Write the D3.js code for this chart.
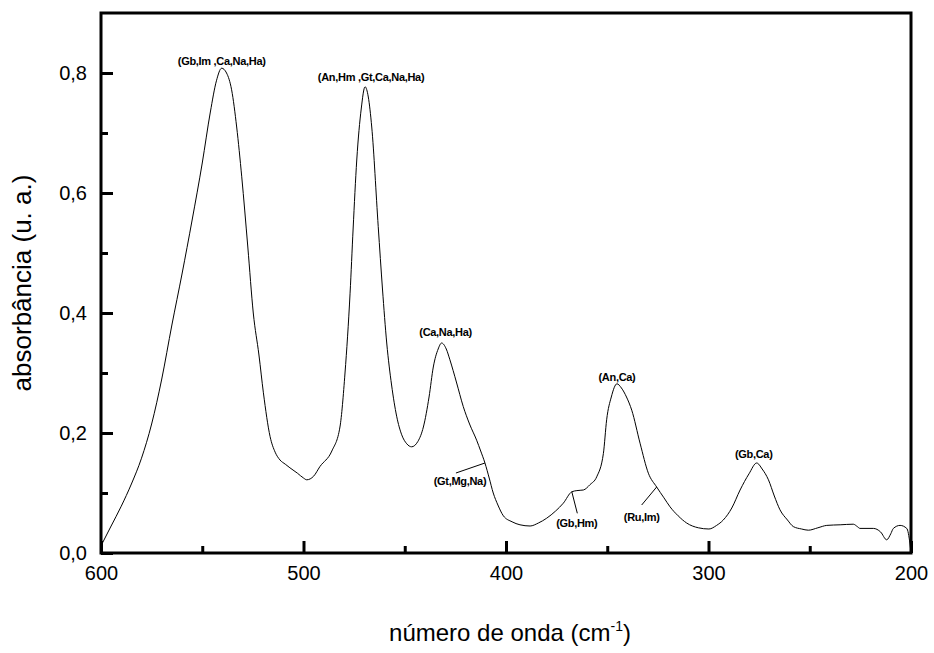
<!DOCTYPE html>
<html>
<head>
<meta charset="utf-8">
<script src="https://cdnjs.cloudflare.com/ajax/libs/d3/7.8.5/d3.min.js"></script>
<style>
body { margin: 0; background: #fff; }
.graphic text { font-family: "Liberation Sans", Arial, sans-serif; }
</style>
</head>
<body>
<div class="graphic"></div>
<script>
// spectrum: wavenumber (cm-1) and absorbance (u. a.)
var wavenumber = [600, 595, 590, 585, 580, 575, 570, 565, 560, 555, 550, 546, 543, 540.4, 538, 535.5, 533, 530.5, 527.5,
  524.8, 522, 519.8, 516.5, 514, 511.6, 509, 506.7, 503, 500, 498.4, 495, 491.9, 486, 482, 479.5, 477, 475.5, 473.7, 471.5,
  469.6, 468, 466.3, 463.1, 461, 458.9, 456.5, 454, 451.5, 449, 446.6, 443.5, 440.8, 438, 435.9, 433.5, 431.8, 429.5, 427.7, 424.5, 421.1,
  418, 414.5, 412.5, 410.4, 408.3, 406.3, 404, 401.3, 397, 393.1, 388.1, 384, 379.9, 375.5, 371.7, 367.5, 365, 361.8, 358.5, 355.2,
  351.9, 350.3, 348, 345.2, 343, 340.5, 337.9, 333.8, 329.7, 325.6, 322, 319, 315, 310.8, 305, 299.8, 296, 292.7, 288.5, 284.4,
  280, 276.2, 273.5, 270.4, 267.5, 264.7, 261, 258.1, 254, 250.7, 246, 241.6, 235, 228.5, 226.5, 225.2, 218.6, 215,
  212, 210, 208.7, 205.4, 202.1, 200.5, 200];
var absorbance = [0.012, 0.045, 0.078, 0.115, 0.158, 0.215, 0.29, 0.38, 0.465, 0.555, 0.65, 0.735, 0.787, 0.808, 0.80, 0.772, 0.71, 0.627, 0.51,
  0.40, 0.33, 0.267, 0.194, 0.168, 0.155, 0.148, 0.142, 0.133, 0.125, 0.122, 0.128, 0.144, 0.17, 0.21, 0.30, 0.433, 0.54, 0.655, 0.74,
  0.777, 0.76, 0.71, 0.544, 0.44, 0.35, 0.28, 0.228, 0.197, 0.182, 0.177, 0.186, 0.21, 0.26, 0.31, 0.34, 0.35, 0.34, 0.322, 0.285, 0.244,
  0.215, 0.188, 0.17, 0.15, 0.125, 0.10, 0.08, 0.062, 0.052, 0.047, 0.045, 0.05, 0.058, 0.07, 0.083, 0.102, 0.104, 0.105, 0.114, 0.127,
  0.166, 0.222, 0.26, 0.282, 0.275, 0.26, 0.238, 0.183, 0.133, 0.11, 0.092, 0.077, 0.062, 0.05, 0.042, 0.04, 0.046, 0.055, 0.075, 0.105,
  0.132, 0.15, 0.14, 0.122, 0.095, 0.072, 0.055, 0.044, 0.04, 0.038, 0.042, 0.046, 0.047, 0.048, 0.044, 0.041, 0.041, 0.035,
  0.022, 0.032, 0.041, 0.046, 0.041, 0.015, 0.0];

var xMajor = [600, 500, 400, 300, 200];
var xMinor = [550, 450, 350, 250];
var yMajor = [0, 0.2, 0.4, 0.6, 0.8];
var yMinor = [0.1, 0.3, 0.5, 0.7];

// band assignments, anchored on the spectrum
var bandLabels = ["(Gb,Im ,Ca,Na,Ha)", "(An,Hm ,Gt,Ca,Na,Ha)", "(Ca,Na,Ha)", "(Gt,Mg,Na)", "(Gb,Hm)", "(An,Ca)", "(Ru,Im)", "(Gb,Ca)"];
var bandWn = [540.4, 469.6, 431.8, 410.4, 367.5, 345.2, 325.6, 276.2];

// label placement (pixels from the anchor): text offset, leader end (null = no leader)
var labelPos = [
  {tx: 0, ty: -3, line: null},
  {tx: 6, ty: -6, line: null},
  {tx: 4, ty: -7, line: null},
  {tx: -25, ty: 22, line: [-29, 10]},
  {tx: 5, ty: 35, line: [5.5, 21.5]},
  {tx: 0, ty: -3, line: null},
  {tx: -15, ty: 34, line: [-15, 18]},
  {tx: -3, ty: -5, line: null}
];

var width = 934, height = 653;
var margin = {left: 101, right: 23, top: 13, bottom: 100};

var svg = d3.select(".graphic")
  .append("svg")
  .attr("width", width)
  .attr("height", height);

var x = d3.scaleLinear().domain([600, 200]).range([margin.left, width - margin.right]);
var y = d3.scaleLinear().domain([0, 0.9]).range([height - margin.bottom, margin.top]);

var comma = function(d) { return d3.format(".1f")(d).replace(".", ","); };

var spectrum = wavenumber.map(function(w, i) { return {w: w, a: absorbance[i]}; });

var line = d3.line()
  .x(function(d) { return x(d.w); })
  .y(function(d) { return y(d.a); })
  .curve(d3.curveMonotoneX);

svg.append("path")
  .datum(spectrum)
  .attr("d", line)
  .attr("fill", "none")
  .attr("stroke", "#000")
  .attr("stroke-width", 1);

// axes, ticks point inward
svg.append("g")
  .attr("transform", "translate(0," + y(0) + ")")
  .call(d3.axisBottom(x).tickValues(xMajor).tickSize(-12).tickPadding(13).tickFormat(d3.format("d")));
svg.append("g")
  .attr("transform", "translate(0," + y(0) + ")")
  .call(d3.axisBottom(x).tickValues(xMinor).tickSize(-7).tickFormat(""));

svg.append("g")
  .attr("transform", "translate(" + x(600) + ",0)")
  .call(d3.axisLeft(y).tickValues(yMajor).tickSize(-12).tickPadding(14).tickFormat(comma));
svg.append("g")
  .attr("transform", "translate(" + x(600) + ",0)")
  .call(d3.axisLeft(y).tickValues(yMinor).tickSize(-7).tickFormat(""));

svg.selectAll(".tick line").attr("stroke", "#000").attr("stroke-width", 3);
svg.selectAll(".domain").remove();
svg.selectAll(".tick text")
  .attr("font-size", "20px")
  .attr("fill", "#000");

// frame
svg.append("rect")
  .attr("x", x(600))
  .attr("y", y(0.9))
  .attr("width", x(200) - x(600))
  .attr("height", y(0) - y(0.9))
  .attr("fill", "none")
  .attr("stroke", "#000")
  .attr("stroke-width", 3);

// band labels
var bands = svg.append("g").selectAll("g")
  .data(bandLabels)
  .enter()
  .append("g")
  .attr("transform", function(d, i) {
    var w = bandWn[i];
    var a = absorbance[wavenumber.indexOf(w)];
    return "translate(" + x(w) + "," + y(a) + ")";
  });

bands.filter(function(d, i) { return labelPos[i].line; })
  .append("line")
  .attr("x1", 0).attr("y1", 0)
  .attr("x2", function(d) { return labelPos[bandLabels.indexOf(d)].line[0]; })
  .attr("y2", function(d) { return labelPos[bandLabels.indexOf(d)].line[1]; })
  .attr("stroke", "#000")
  .attr("stroke-width", 1);

bands.append("text")
  .attr("x", function(d, i) { return labelPos[i].tx; })
  .attr("y", function(d, i) { return labelPos[i].ty; })
  .attr("text-anchor", "middle")
  .attr("font-size", "11px")
  .attr("font-weight", "bold")
  .attr("letter-spacing", "-0.3px")
  .text(function(d) { return d; });

// axis titles
var xTitle = svg.append("text")
  .attr("x", (x(600) + x(200)) / 2 + 4)
  .attr("y", 641)
  .attr("text-anchor", "middle")
  .attr("font-size", "24px");
xTitle.append("tspan").text("número de onda (cm");
xTitle.append("tspan").attr("dy", -10).attr("font-size", "14px").text("-1");
xTitle.append("tspan").attr("dy", 10).text(")");

svg.append("text")
  .attr("transform", "translate(31," + 283 + ") rotate(-90)")
  .attr("text-anchor", "middle")
  .attr("font-size", "26px")
  .text("absorbância (u. a.)");
</script>
</body>
</html>
